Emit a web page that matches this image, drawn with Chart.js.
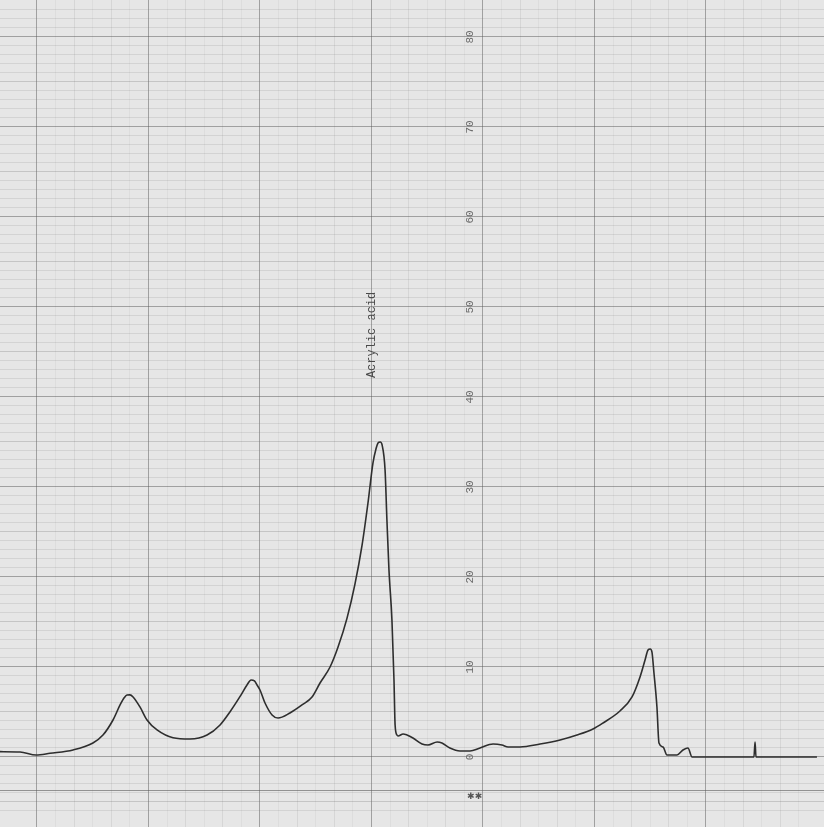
<!DOCTYPE html>
<html>
<head>
<meta charset="utf-8">
<script src="https://cdn.jsdelivr.net/npm/chart.js@4.4.0/dist/chart.umd.min.js"></script>
<style>
  html,body{margin:0;padding:0;background:#e4e4e4;}
  #wrap{width:824px;height:827px;position:relative;}
</style>
</head>
<body>
<div id="wrap"><canvas id="c"></canvas></div>
<script>
// Recorder trace: x in chart-paper minor divisions, y in recorder units (0-100 scale)
const traceX = [-1.99,-0.91,-0.05,0.70,1.94,3.01,3.55,4.09,4.47,4.70,4.84,5.00,5.17,5.54,5.92,6.46,7.32,8.23,9.15,9.85,10.39,10.92,11.30,11.52,11.70,11.84,12.00,12.27,12.65,12.97,13.61,14.26,14.80,15.23,15.77,16.20,16.68,17.11,17.49,17.81,18.08,18.25,18.35,18.47,18.57,18.73,18.83,18.94,19.10,19.21,19.27,19.37,19.43,19.70,19.91,20.23,20.72,21.04,21.53,21.79,22.22,22.76,23.30,23.84,24.54,25.02,25.35,25.99,27.07,28.15,29.06,29.92,30.46,31.37,32.02,32.45,32.72,32.88,33.00,33.09,33.20,33.36,33.47,33.69,33.90,34.44,34.76,35.03,35.25,36.22,38.58,38.64,38.69,40.68,41.97];
const traceY = [0.59,0.56,0.22,0.41,0.78,1.56,2.44,4.11,5.78,6.60,6.89,6.90,6.67,5.56,4.11,3.00,2.14,2.00,2.44,3.56,5.03,6.70,8.00,8.56,8.45,8.00,7.44,6.00,4.67,4.33,4.89,5.78,6.67,8.22,10.00,12.22,15.40,19.20,23.50,28.22,32.67,34.30,34.89,35.00,34.67,31.89,26.33,20.78,15.22,8.56,3.56,2.44,2.33,2.56,2.44,2.11,1.44,1.33,1.67,1.56,1.00,0.67,0.67,1.00,1.44,1.33,1.11,1.11,1.44,1.89,2.44,3.11,3.78,5.11,6.67,8.89,10.78,11.89,12.00,11.67,9.33,5.56,1.56,1.11,0.22,0.22,0.78,1.00,0.00,0.00,0.00,1.67,0.00,0.00,0.00];
const scaleLabels = ['0','10','20','30','40','50','60','70','80'];
const scaleValues = [0,10,20,30,40,50,60,70,80];
const peakLabel = 'Acrylic acid';
const peakLabelPos = {x:18.03, y:46.9};
const scaleLabelX = 23.3;
const xRange = {min:-1.991, max:42.35};
const yRange = {min:-7.78, max:84.11};
const frameLineY = -3.67;
const markText = '✱✱';
const markPos = {x:23.55, y:-4.45};

const points = traceX.map((x,i)=>({x:x, y:traceY[i]}));

const isMultiple = (v, m) => Math.abs(v/m - Math.round(v/m)) < 1e-6;

const annotations = {
  id:'annot',
  beforeDraw(chart){
    const {ctx, width, height} = chart;
    ctx.save();
    ctx.fillStyle = '#e6e6e6';
    ctx.fillRect(0,0,width,height);
    ctx.restore();
  },
  afterDatasetsDraw(chart){
    const {ctx, scales:{x, y}} = chart;
    ctx.save();
    // paper frame line
    ctx.strokeStyle = 'rgba(90,90,90,0.6)';
    ctx.lineWidth = 1.2;
    ctx.beginPath();
    const fy = Math.round(y.getPixelForValue(frameLineY)) + 0.5;
    ctx.moveTo(0, fy); ctx.lineTo(x.getPixelForValue(xRange.max), fy);
    ctx.stroke();
    // scale labels (rotated)
    ctx.fillStyle = '#6a6a6a';
    ctx.font = '11px "Liberation Mono", "DejaVu Sans Mono", monospace';
    ctx.textAlign = 'center';
    ctx.textBaseline = 'middle';
    const lx = x.getPixelForValue(scaleLabelX);
    scaleLabels.forEach((t,i)=>{
      const py = y.getPixelForValue(scaleValues[i]);
      ctx.save();
      ctx.translate(lx, py);
      ctx.rotate(-Math.PI/2);
      ctx.fillText(t, 0, 0);
      ctx.restore();
    });
    // peak label
    ctx.fillStyle = '#4a4a4a';
    ctx.font = '12px "Liberation Mono", "DejaVu Sans Mono", monospace';
    ctx.save();
    ctx.translate(x.getPixelForValue(peakLabelPos.x), y.getPixelForValue(peakLabelPos.y));
    ctx.rotate(-Math.PI/2);
    ctx.fillText(peakLabel, 0, 0);
    ctx.restore();
    // marks below axis
    ctx.fillStyle = '#555';
    ctx.font = '9px "DejaVu Sans", sans-serif';
    ctx.fillText(markText, x.getPixelForValue(markPos.x), y.getPixelForValue(markPos.y));
    ctx.restore();
  }
};

new Chart(document.getElementById('c'), {
  type:'line',
  data:{
    datasets:[{
      data: points,
      borderColor:'#2e2e2e',
      borderWidth:1.6,
      pointRadius:0,
      fill:false,
      cubicInterpolationMode:'monotone'
    }]
  },
  options:{
    responsive:true,
    maintainAspectRatio:false,
    animation:false,
    layout:{padding:0},
    plugins:{legend:{display:false}, tooltip:{enabled:false}, title:{display:false}},
    scales:{
      x:{
        type:'linear', min:xRange.min, max:xRange.max,
        border:{display:false},
        ticks:{display:false, stepSize:1},
        grid:{
          drawTicks:false,
          lineWidth:1,
          color:(c)=>{
            const v = c.tick.value;
            if (!isMultiple(v,1)) return 'rgba(0,0,0,0)';
            if (isMultiple(v,6)) return 'rgba(90,90,90,0.5)';
            if (isMultiple(v,2)) return 'rgba(120,120,120,0.14)';
            return 'rgba(120,120,120,0.08)';
          }
        }
      },
      y:{
        type:'linear', min:yRange.min, max:yRange.max,
        border:{display:false},
        ticks:{display:false, stepSize:1},
        grid:{
          drawTicks:false,
          lineWidth:1,
          color:(c)=>{
            const v = c.tick.value;
            if (!isMultiple(v,1)) return 'rgba(0,0,0,0)';
            if (isMultiple(v,10)) return 'rgba(90,90,90,0.5)';
            if (isMultiple(v,5)) return 'rgba(110,110,110,0.28)';
            return 'rgba(120,120,120,0.17)';
          }
        }
      }
    }
  },
  plugins:[annotations]
});
</script>
</body>
</html>
